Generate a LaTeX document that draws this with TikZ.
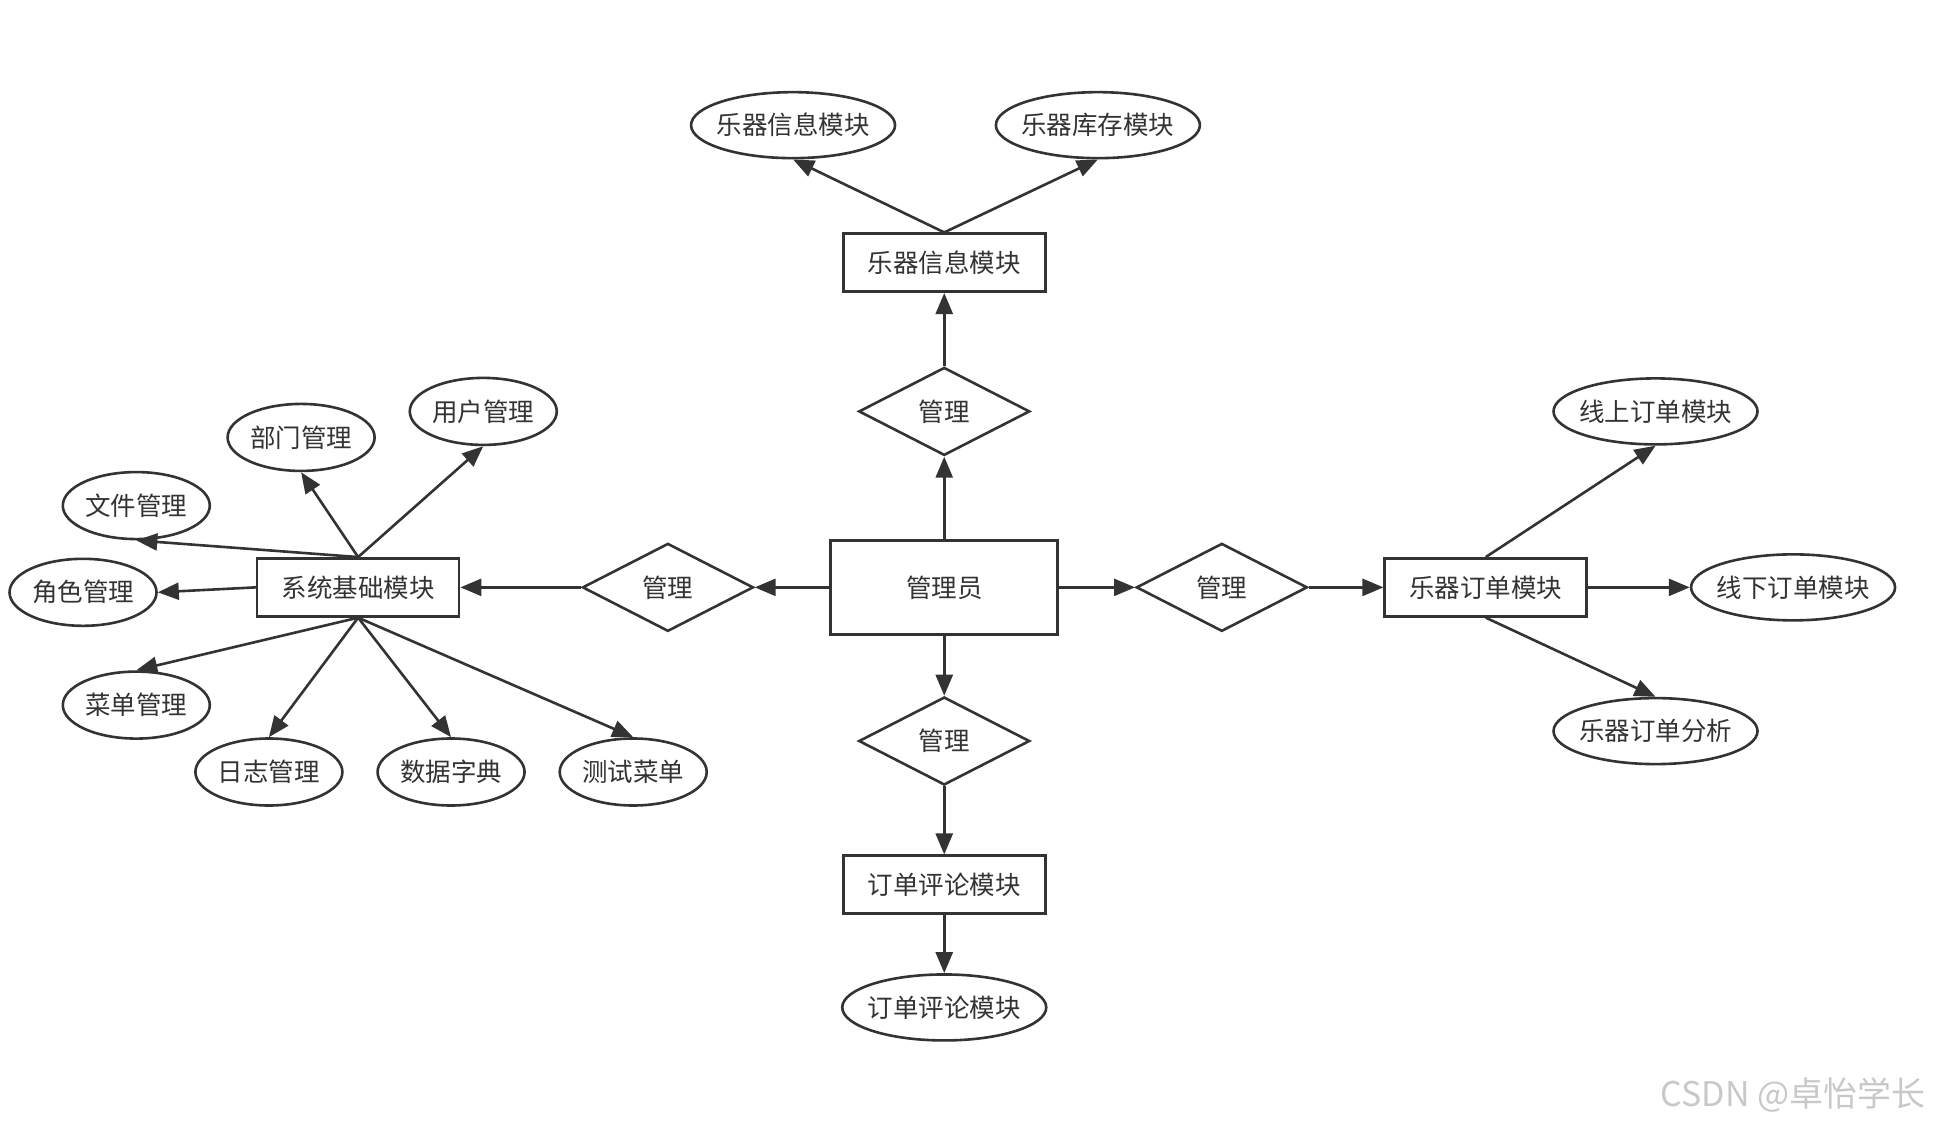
\documentclass[tikz,border=0pt]{standalone}
\usepackage{fontspec}
\setmainfont{Noto Sans CJK SC}
\usetikzlibrary{shapes.geometric,arrows.meta}
\definecolor{ink}{HTML}{333333}
\definecolor{wm}{HTML}{C8C8C8}
\newcommand\zwbox[1]{\makebox[0pt][c]{#1}}
\tikzset{
  base/.style={draw=ink, line width=2.6pt, text=ink, font=\fontsize{25.5pt}{28pt}\selectfont, inner sep=0pt},
  ent/.style={base, rectangle, minimum width=202pt, minimum height=58pt},
  bigent/.style={base, rectangle, minimum width=227pt, minimum height=94pt},
  rel/.style={base, diamond, minimum width=171pt, minimum height=88pt},
  attr/.style={base, ellipse, minimum width=147pt, minimum height=67pt},
  wattr/.style={base, ellipse, minimum width=204pt, minimum height=66pt},
  conn/.style={draw=ink, line width=2.6pt, -{Triangle[length=21pt,width=17pt]}}
}
\begin{document}
\begin{tikzpicture}[x=1.2392pt,y=-1.2392pt]
\useasboundingbox (0,0) rectangle (1568,911);
% central
\node[bigent] (admin) at (762,474) {管理员};
% top branch
\node[rel] (rtop) at (762,332) {管理};
\node[ent] (info) at (762,212) {乐器信息模块};
\node[wattr] (infoA) at (640,101) {\zwbox{乐器信息模块}};
\node[wattr] (stock) at (886,101) {\zwbox{乐器库存模块}};
% left branch
\node[rel] (rleft) at (539,474) {管理};
\node[ent] (sys) at (289,474) {系统基础模块};
\node[attr] (user) at (390,332) {用户管理};
\node[attr] (dept) at (243,353) {部门管理};
\node[attr] (file) at (110,408) {文件管理};
\node[attr] (role) at (67,478) {角色管理};
\node[attr] (menu) at (110,569) {菜单管理};
\node[attr] (log) at (217,623) {日志管理};
\node[attr] (dict) at (364,623) {数据字典};
\node[attr] (test) at (511,623) {测试菜单};
% right branch
\node[rel] (rright) at (986,474) {管理};
\node[ent] (order) at (1199,474) {乐器订单模块};
\node[wattr] (online) at (1336,332) {\zwbox{线上订单模块}};
\node[wattr] (offline) at (1447,474) {\zwbox{线下订单模块}};
\node[wattr] (anal) at (1336,590) {\zwbox{乐器订单分析}};
% bottom branch
\node[rel] (rbot) at (762,598) {管理};
\node[ent] (comm) at (762,714) {订单评论模块};
\node[wattr] (commA) at (762,813) {\zwbox{订单评论模块}};
% watermark
\node[text=wm, font=\fontsize{34pt}{37pt}\selectfont, inner sep=0pt] (wmk) at (1447,884) {CSDN @卓怡学长};

% connectors
\draw[conn] (admin.north) -- (rtop.south);
\draw[conn] (rtop.north) -- (info.south);
\draw[conn] (info.north) -- (infoA.south);
\draw[conn] (info.north) -- (stock.south);

\draw[conn] (admin.west) -- (rleft.east);
\draw[conn] (rleft.west) -- (sys.east);
\draw[conn] (sys.north) -- (user.south);
\draw[conn] (sys.north) -- (dept.south);
\draw[conn] (sys.north) -- (file.south);
\draw[conn] (sys.west) -- (role.east);
\draw[conn] (sys.south) -- (menu.north);
\draw[conn] (sys.south) -- (log.north);
\draw[conn] (sys.south) -- (dict.north);
\draw[conn] (sys.south) -- (test.north);

\draw[conn] (admin.east) -- (rright.west);
\draw[conn] (rright.east) -- (order.west);
\draw[conn] (order.north) -- (online.south);
\draw[conn] (order.east) -- (offline.west);
\draw[conn] (order.south) -- (anal.north);

\draw[conn] (admin.south) -- (rbot.north);
\draw[conn] (rbot.south) -- (comm.north);
\draw[conn] (comm.south) -- (commA.north);
\end{tikzpicture}
\end{document}
